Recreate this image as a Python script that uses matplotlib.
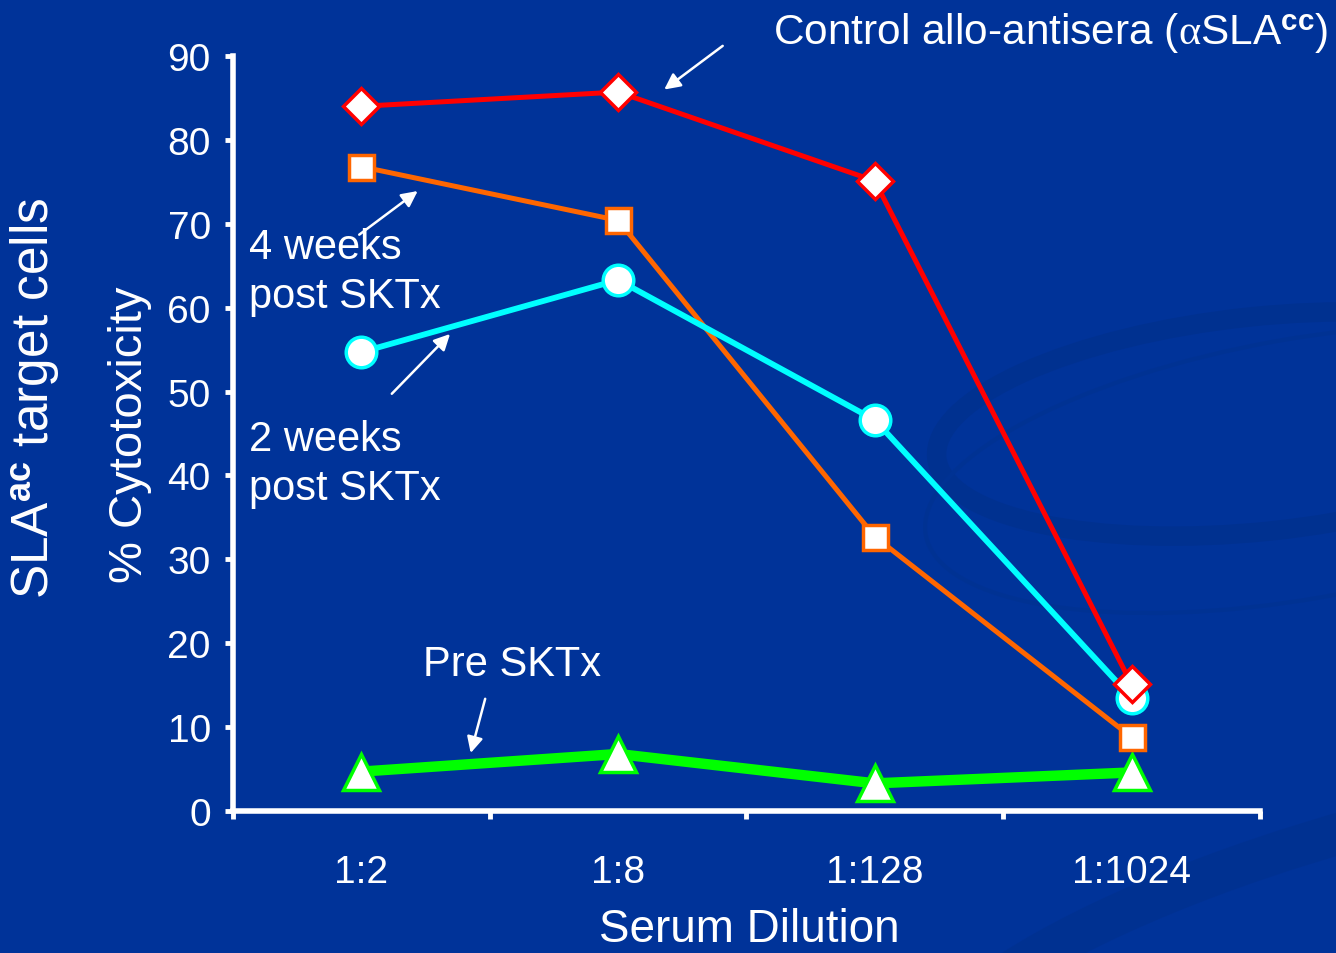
import matplotlib
matplotlib.use('Agg')
from matplotlib import pyplot as plt
from matplotlib.patches import Ellipse

plt.rcParams['font.family'] = ['Liberation Sans', 'DejaVu Sans']
plt.rcParams['mathtext.fontset'] = 'custom'
plt.rcParams['mathtext.rm'] = 'Liberation Sans'
plt.rcParams['mathtext.bf'] = 'Liberation Sans:bold'
plt.rcParams['mathtext.it'] = 'Liberation Serif'

dilutions = ['1:2', '1:8', '1:128', '1:1024']
control = [84.0, 85.7, 75.1, 15.1]
weeks4 = [76.8, 70.4, 32.7, 8.8]
weeks2 = [54.7, 63.3, 46.6, 13.5]
pre = [4.7, 6.8, 3.3, 4.6]

bg = '#003399'
fig = plt.figure(figsize=(13.36, 9.54), dpi=100, facecolor=bg)

# faint swirl behind the chart, drawn in pixel units
deco = fig.add_axes([0, 0, 1, 1], zorder=-1)
deco.set_xlim(0, 1336)
deco.set_ylim(954, 0)
deco.axis('off')
deco.add_patch(Ellipse((1260, 425), 650, 215, angle=-6, fill=False, ec='#003190', lw=14))
deco.add_patch(Ellipse((1300, 470), 760, 260, angle=-10, fill=False, ec='#003293', lw=3))
deco.add_patch(Ellipse((1450, 960), 1100, 300, angle=-14, fill=False, ec='#003190', lw=30, alpha=0.8))

ax = fig.add_axes([0.1744, 0.1488, 0.7687, 0.7915])
ax.set_facecolor('none')

x = [0.5, 1.5, 2.5, 3.5]
ax.plot(x, pre, color='#00ff00', lw=7.5, marker='^', ms=26, mfc='white', mec='#00ff00', mew=2.5, zorder=3)
ax.plot(x, weeks4, color='#ff6600', lw=3.6, marker='s', ms=18, mfc='white', mec='#ff6600', mew=2.5, zorder=4)
ax.plot(x, weeks2, color='#00ffff', lw=4.2, marker='o', ms=22, mfc='white', mec='#00ffff', mew=2.5, zorder=5)
ax.plot(x, control, color='#ff0000', lw=3.6, marker='D', ms=18, mfc='white', mec='#ff0000', mew=2.5, zorder=6)

ax.set_xlim(0, 4)
ax.set_ylim(0, 90)
ax.set_yticks(range(0, 91, 10))
ax.set_xticks([0, 1, 2, 3, 4])
ax.set_xticklabels([])
ax.set_xticks(x, minor=True)
ax.set_xticklabels(dilutions, minor=True)
ax.tick_params(axis='x', which='minor', length=0, pad=31, labelsize=28, colors='white')
ax.tick_params(axis='both', which='major', length=6, width=3.5, color='white',
               labelcolor='white', labelsize=28)
ax.tick_params(axis='y', pad=10)
for s in ['top', 'right']:
    ax.spines[s].set_visible(False)
for s in ['left', 'bottom']:
    ax.spines[s].set_color('white')
    ax.spines[s].set_linewidth(4)

fig.text(0.0973, 0.544, '% Cytotoxicity', color='white', fontsize=34,
         rotation=90, ha='center', va='center')
fig.text(0.5606, 0.002, 'Serum Dilution', color='white', fontsize=33, ha='center', va='bottom')
fig.text(0.026, 0.583, r'SLA$^{\mathbf{ac}}$ target cells', color='white', fontsize=37,
         rotation=90, ha='center', va='center')

arrow = dict(arrowstyle='-|>', color='white', lw=1.8, mutation_scale=24)
ax.text(2.103, 92.9, r'Control allo-antisera ($\alpha$SLA$^{\mathbf{cc}}$)', color='white',
        fontsize=30.5, ha='left', va='center', clip_on=False)
ax.annotate('', xy=(1.671, 85.8), xytext=(1.916, 91.4), arrowprops=arrow, annotation_clip=False)
ax.text(0.062, 64.3, '4 weeks\npost SKTx', color='white', fontsize=30, ha='left', va='center',
        linespacing=1.3)
ax.annotate('', xy=(0.728, 74.1), xytext=(0.483, 68.5), arrowprops=arrow)
ax.text(0.062, 41.4, '2 weeks\npost SKTx', color='white', fontsize=30, ha='left', va='center',
        linespacing=1.3)
ax.annotate('', xy=(0.853, 57.1), xytext=(0.611, 49.5), arrowprops=arrow)
ax.text(1.087, 17.5, 'Pre SKTx', color='white', fontsize=30, ha='center', va='center')
ax.annotate('', xy=(0.923, 6.6), xytext=(0.985, 13.7), arrowprops=arrow)

fig.savefig('out.png', dpi=100, facecolor=bg)
